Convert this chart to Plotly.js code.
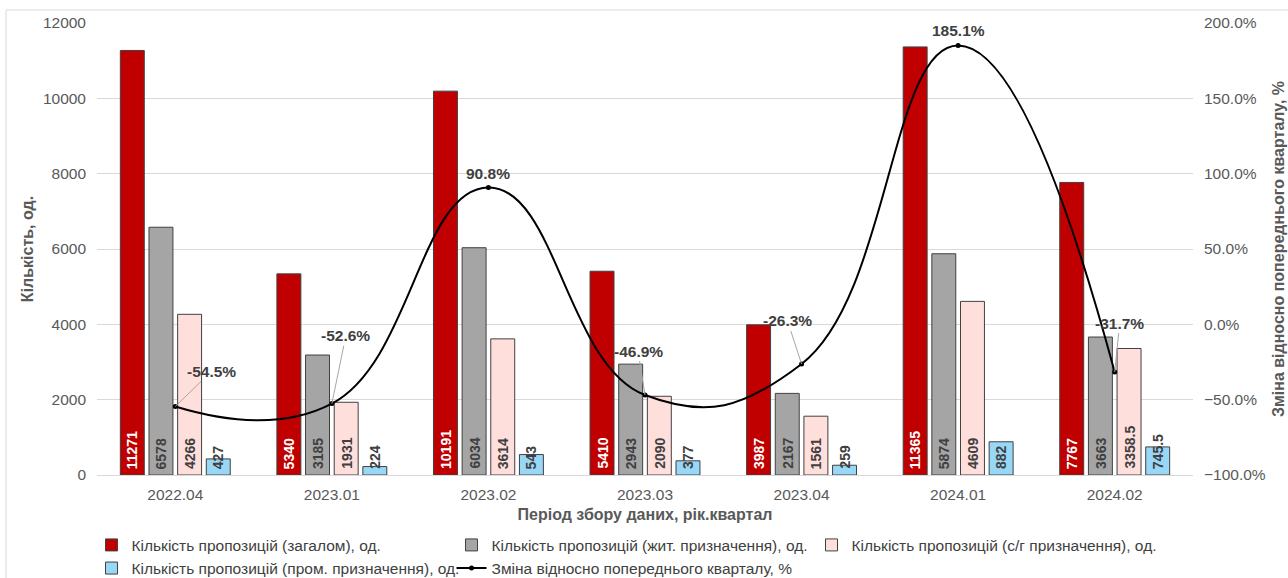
<!DOCTYPE html>
<html>
<head>
<meta charset="utf-8">
<script src="https://cdn.plot.ly/plotly-3.0.1.min.js"></script>
<style>html,body{margin:0;padding:0;background:#fff;}#chart{width:1288px;height:578px;}</style>
</head>
<body>
<div id="chart"></div>
<script>
// ---- data ----
const categories = ["2022.04","2023.01","2023.02","2023.03","2023.04","2024.01","2024.02"];
const totalOffers = [11271, 5340, 10191, 5410, 3987, 11365, 7767];
const residentialOffers = [6578, 3185, 6034, 2943, 2167, 5874, 3663];
const agriOffers = [4266, 1931, 3614, 2090, 1561, 4609, 3358.5];
const industrialOffers = [427, 224, 543, 377, 259, 882, 745.5];
const changePct = [-54.5, -52.6, 90.8, -46.9, -26.3, 185.1, -31.7];

const seriesNames = [
  "Кількість пропозицій (загалом), од.",
  "Кількість пропозицій (жит. призначення), од.",
  "Кількість пропозицій (с/г призначення), од.",
  "Кількість пропозицій (пром. призначення), од."
];
const lineName = "Зміна відносно попереднього кварталу, %";

// ---- styles ----
const FONT = "Liberation Sans, Arial, sans-serif";
const barColors = ["#C00000", "#A5A5A5", "#FFDFDC", "#99D7F7"];
const labelColors = ["#FFFFFF", "#404040", "#404040", "#404040"];
const barWidth = 0.153;
const barOffsets = [-0.351, -0.168, 0.015, 0.198];
const lineLabelStyle = [
  {arrow:true, ax:36, ay:-35},
  {arrow:true, ax:14, ay:-68},
  {arrow:false, yshift:14},
  {arrow:true, ax:-7, ay:-44},
  {arrow:true, ax:-14, ay:-43},
  {arrow:false, yshift:14},
  {arrow:true, ax:5, ay:-49}
];

const xIdx = categories.map((c, i) => i);
const barSeries = [totalOffers, residentialOffers, agriOffers, industrialOffers];

const traces = barSeries.map((vals, k) => ({
  type: "bar",
  name: seriesNames[k],
  x: xIdx,
  y: vals,
  width: barWidth,
  offset: barOffsets[k],
  marker: {color: barColors[k], line: {color: "#404040", width: 1}},
  hoverinfo: "skip"
}));

traces.push({
  type: "scatter",
  mode: "lines+markers",
  name: lineName,
  x: xIdx,
  y: changePct,
  yaxis: "y2",
  line: {color: "#000000", width: 2, shape: "spline", smoothing: 1.3},
  marker: {color: "#000000", size: 5},
  hoverinfo: "skip"
});

const annotations = [];
barSeries.forEach((vals, k) => {
  vals.forEach((v, i) => {
    annotations.push({
      x: i + barOffsets[k] + barWidth / 2,
      y: 0,
      xref: "x", yref: "y",
      text: String(v),
      textangle: -90,
      showarrow: false,
      xanchor: "center", yanchor: "bottom",
      yshift: 4,
      font: {family: FONT, size: 14, color: labelColors[k], weight: "bold"}
    });
  });
});
changePct.forEach((v, i) => {
  const s = lineLabelStyle[i];
  const a = {
    x: i, y: v, xref: "x", yref: "y2",
    text: v.toFixed(1) + "%",
    font: {family: FONT, size: 15.5, color: "#404040", weight: "bold"}
  };
  if (s.arrow) {
    Object.assign(a, {showarrow: true, arrowhead: 0, arrowwidth: 1, arrowcolor: "#A6A6A6",
      ax: s.ax, ay: s.ay, standoff: 0});
  } else {
    Object.assign(a, {showarrow: false, yanchor: "bottom", yshift: s.yshift - 10});
  }
  annotations.push(a);
});

const layout = {
  width: 1288, height: 578,
  margin: {l: 97, r: 95, t: 23, b: 103, autoexpand: false},
  paper_bgcolor: "#FFFFFF",
  plot_bgcolor: "#FFFFFF",
  font: {family: FONT, color: "#595959"},
  showlegend: true,
  barmode: "group",
  xaxis: {
    range: [-0.5, 6.5],
    tickvals: xIdx,
    ticktext: categories,
    showgrid: false,
    zeroline: false,
    showline: false,
    ticks: "",
    automargin: false,
    ticklabelstandoff: 8,
    tickfont: {family: FONT, size: 15.5, color: "#595959"},
    title: {text: "Період збору даних, рік.квартал", standoff: 7,
      font: {family: FONT, size: 16, color: "#595959", weight: "bold"}},
    fixedrange: true
  },
  yaxis: {
    range: [0, 12000],
    dtick: 2000,
    tickformat: "d",
    showgrid: true,
    gridcolor: "#D9D9D9",
    gridwidth: 1,
    zeroline: true,
    zerolinecolor: "#D9D9D9",
    showline: false,
    ticks: "",
    automargin: false,
    ticklabelstandoff: 10,
    tickfont: {family: FONT, size: 15.5, color: "#595959"},
    title: {text: "Кількість, од.", standoff: 5,
      font: {family: FONT, size: 16, color: "#595959", weight: "bold"}},
    fixedrange: true
  },
  yaxis2: {
    overlaying: "y",
    side: "right",
    range: [-100, 200],
    dtick: 50,
    tickformat: ".1f",
    ticksuffix: "%",
    showgrid: false,
    zeroline: false,
    showline: false,
    ticks: "",
    automargin: false,
    ticklabelstandoff: 10,
    tickfont: {family: FONT, size: 15.5, color: "#595959"},
    title: {text: "Зміна відносно попереднього кварталу, %", standoff: 7,
      font: {family: FONT, size: 16, color: "#595959", weight: "bold"}},
    fixedrange: true
  },
  legend: {
    orientation: "h",
    x: -0.005, xanchor: "left",
    y: -0.118, yanchor: "top",
    entrywidth: 315,
    itemwidth: 30,
    traceorder: "normal",
    font: {family: FONT, size: 15.5, color: "#404040"},
    bgcolor: "rgba(0,0,0,0)"
  },
  shapes: [{
    type: "rect", xref: "paper", yref: "paper",
    x0: -0.083, x1: 1.2, y0: -0.6, y1: 1.0288,
    line: {color: "#D9D9D9", width: 1},
    layer: "below"
  }],
  annotations: annotations
};

Plotly.newPlot("chart", traces, layout, {staticPlot: true, displayModeBar: false});
</script>
</body>
</html>
